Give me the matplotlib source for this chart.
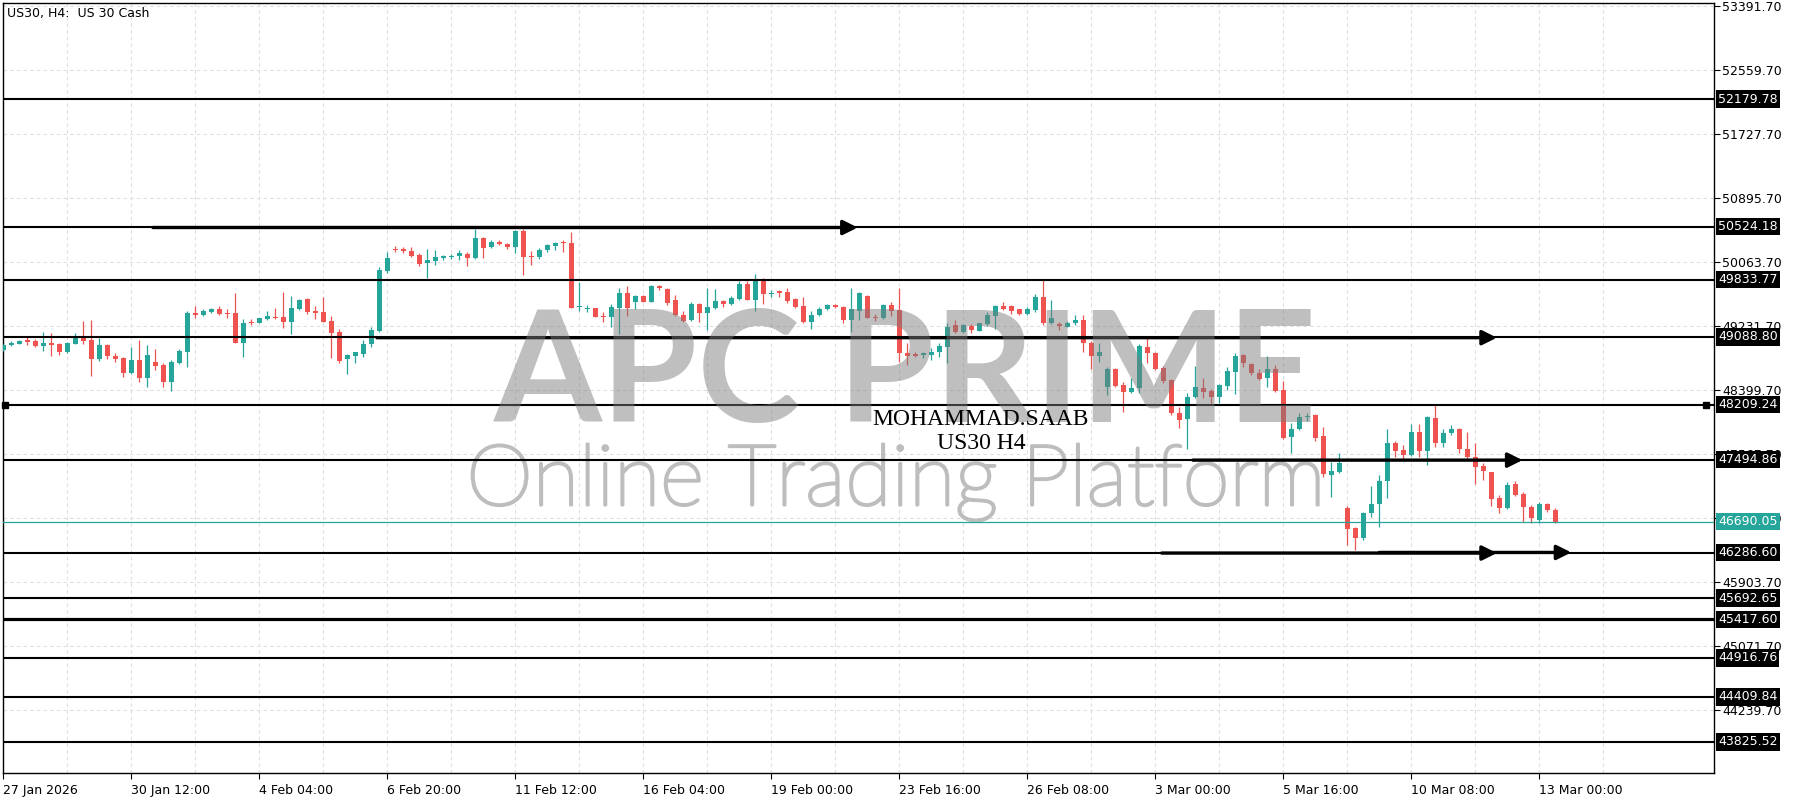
import numpy as np
import matplotlib
matplotlib.use("Agg")
import matplotlib.pyplot as plt
import matplotlib.transforms as mtransforms
import matplotlib.patheffects as pe
from matplotlib.ticker import FixedLocator

# ---------------- data (US30, H4 candles, bar index = position) ----------------
opens = [48920, 48989, 49002, 49054, 49041, 48972, 49015, 48998, 48890, 49002,
         49076, 49050, 48803, 48985, 48846, 48816, 48617, 48790, 48556, 48764,
         48725, 48508, 48755, 48898, 49405, 49375, 49414, 49453, 49401, 49401,
         49015, 49288, 49275, 49323, 49349, 49349, 49288, 49453, 49583, 49431,
         49414, 49293, 49150, 48803, 48846, 48872, 48998, 49167, 49947, 50233,
         50229, 50207, 50155, 50051, 50081, 50112, 50129, 50142, 50172, 50120,
         50376, 50255, 50324, 50298, 50263, 50467, 50142, 50133, 50216, 50276,
         50320, 50307, 49483, 49453, 49462, 49366, 49353, 49470, 49657, 49548,
         49622, 49548, 49748, 49713, 49566, 49375, 49306, 49518, 49405, 49470,
         49553, 49518, 49583, 49774, 49570, 49843, 49652, 49683, 49670, 49579,
         49492, 49288, 49371, 49449, 49505, 49483, 49310, 49431, 49626, 49353,
         49332, 49505, 49440, 48885, 48864, 48851, 48851, 48890, 48963, 49241,
         49158, 49232, 49171, 49258, 49362, 49492, 49492, 49449, 49388, 49440,
         49613, 49267, 49258, 49223, 49267, 49310, 49007, 48842, 48443, 48673,
         48465, 48378, 48422, 48963, 48877, 48682, 48530, 48105, 48019, 48305,
         48422, 48387, 48313, 48456, 48638, 48851, 48738, 48625, 48552, 48669,
         48400, 47785, 47889, 48053, 48075, 47802, 47295, 47338, 46870, 46602,
         46472, 46805, 46914, 47221, 47707, 47620, 47555, 47854, 47611, 48040,
         47715, 47837, 47893, 47633, 47533, 47412, 47330, 46992, 46862, 47178,
         47044, 46883, 46710, 46914, 46840]

closes = [48985, 49015, 49037, 49028, 48976, 49015, 48981, 48890, 49011, 49080,
          49037, 48803, 48985, 48838, 48803, 48621, 48790, 48556, 48851, 48712,
          48508, 48768, 48907, 49401, 49375, 49427, 49453, 49388, 49388, 49015,
          49275, 49275, 49332, 49366, 49336, 49284, 49462, 49574, 49418, 49405,
          49288, 49145, 48777, 48855, 48890, 48998, 49176, 49956, 50112, 50220,
          50207, 50146, 50042, 50086, 50129, 50146, 50142, 50177, 50120, 50372,
          50246, 50324, 50294, 50259, 50467, 50133, 50133, 50220, 50285, 50315,
          50307, 49470, 49496, 49470, 49353, 49353, 49475, 49657, 49470, 49622,
          49548, 49748, 49722, 49535, 49375, 49301, 49514, 49405, 49475, 49557,
          49518, 49600, 49778, 49570, 49843, 49648, 49665, 49657, 49561, 49483,
          49288, 49371, 49457, 49501, 49475, 49310, 49457, 49657, 49340, 49332,
          49505, 49431, 48877, 48842, 48846, 48877, 48898, 48972, 49223, 49158,
          49241, 49180, 49267, 49375, 49492, 49457, 49431, 49388, 49449, 49613,
          49267, 49332, 49232, 49275, 49310, 49007, 48842, 48898, 48673, 48452,
          48378, 48430, 48972, 48885, 48669, 48521, 48097, 48010, 48305, 48435,
          48378, 48313, 48465, 48647, 48846, 48747, 48617, 48543, 48669, 48391,
          47772, 47889, 48045, 48066, 47772, 47308, 47347, 47447, 46593, 46472,
          46805, 46918, 47217, 47707, 47611, 47555, 47854, 47611, 48045, 47715,
          47837, 47893, 47629, 47533, 47403, 47351, 46983, 46862, 47165, 47035,
          46883, 46732, 46914, 46840, 46690.05]

highs = [48994, 49037, 49046, 49089, 49063, 49150, 49141, 49015, 49024, 49141,
         49297, 49306, 49080, 48994, 48881, 48829, 48959, 49046, 48985, 48933,
         48751, 48786, 48929, 49423, 49496, 49449, 49466, 49492, 49453, 49665,
         49323, 49323, 49340, 49427, 49462, 49670, 49622, 49583, 49592, 49496,
         49609, 49358, 49193, 48864, 48898, 49046, 49215, 49999, 50198, 50276,
         50259, 50255, 50177, 50233, 50224, 50159, 50172, 50220, 50198, 50493,
         50389, 50346, 50346, 50311, 50480, 50493, 50207, 50242, 50302, 50328,
         50346, 50450, 49808, 49505, 49470, 49418, 49514, 49722, 49756, 49635,
         49635, 49765, 49765, 49722, 49635, 49427, 49540, 49527, 49730, 49713,
         49566, 49618, 49817, 49817, 49908, 49860, 49700, 49700, 49722, 49592,
         49613, 49431, 49475, 49514, 49518, 49492, 49722, 49678, 49635, 49384,
         49518, 49548, 49722, 49015, 48898, 48898, 48942, 49007, 49275, 49310,
         49258, 49258, 49275, 49418, 49505, 49544, 49505, 49457, 49483, 49648,
         49839, 49570, 49288, 49297, 49375, 49375, 49041, 49007, 48695, 48682,
         48508, 48552, 48998, 49085, 48898, 48712, 48538, 48183, 48357, 48712,
         48552, 48409, 48478, 48703, 48877, 48864, 48755, 48669, 48842, 48725,
         48521, 47967, 48097, 48097, 48088, 47923, 47468, 47577, 46892, 46623,
         46818, 47152, 47295, 47893, 47737, 47685, 47958, 47958, 48062, 48205,
         47889, 47945, 47902, 47858, 47707, 47447, 47338, 47035, 47208, 47221,
         47078, 46905, 46940, 46935, 46862]

lows = [48911, 48976, 48994, 48985, 48955, 48907, 48846, 48855, 48881, 48994,
        48994, 48586, 48781, 48803, 48768, 48573, 48604, 48508, 48443, 48656,
        48443, 48391, 48742, 48703, 49332, 49366, 49405, 49375, 49340, 49011,
        48829, 49245, 49271, 49310, 49323, 49210, 49124, 49436, 49384, 49323,
        49284, 48812, 48755, 48608, 48755, 48833, 48963, 49158, 49921, 50190,
        50177, 50129, 50016, 49860, 50025, 50090, 50103, 50090, 50016, 50107,
        50120, 50242, 50285, 50229, 50185, 49895, 50025, 50099, 50198, 50220,
        50190, 49462, 49431, 49410, 49345, 49288, 49223, 49128, 49366, 49453,
        49540, 49540, 49700, 49505, 49362, 49288, 49297, 49280, 49180, 49449,
        49479, 49505, 49570, 49566, 49431, 49514, 49613, 49613, 49527, 49470,
        49267, 49193, 49362, 49440, 49462, 49267, 49158, 49310, 49332, 49301,
        49319, 49362, 48768, 48725, 48825, 48812, 48790, 48833, 48755, 49145,
        49145, 49137, 49167, 49232, 49193, 49440, 49388, 49375, 49375, 49418,
        49245, 49258, 49180, 49215, 49245, 48898, 48669, 48768, 48335, 48443,
        48118, 48365, 48365, 48755, 48660, 48495, 48075, 47902, 47629, 48292,
        48292, 48235, 48235, 48400, 48348, 48703, 48595, 48530, 48435, 48374,
        47759, 47577, 47880, 48001, 47741, 47273, 47005, 47325, 46385, 46320,
        46450, 46745, 46615, 46992, 47533, 47477, 47542, 47533, 47425, 47663,
        47655, 47815, 47577, 47490, 47178, 47230, 46892, 46797, 46853, 47022,
        46688, 46667, 46675, 46810, 46675]

time_label_bars = [0, 16, 32, 48, 64, 80, 96, 112, 128, 144, 160, 176, 192]
time_labels = ["27 Jan 2026", "30 Jan 12:00", "4 Feb 04:00", "6 Feb 20:00",
               "11 Feb 12:00", "16 Feb 04:00", "19 Feb 00:00", "23 Feb 16:00",
               "26 Feb 08:00", "3 Mar 00:00", "5 Mar 16:00", "10 Mar 08:00",
               "13 Mar 00:00"]

price_ticks = [53391.70, 52559.70, 51727.70, 50895.70, 50063.70, 49231.70,
               48399.70, 47567.70, 46735.70, 45903.70, 45071.70, 44239.70]

levels = [52179.78, 50524.18, 49833.77, 49088.80, 48209.24, 47494.86,
          46286.60, 45692.65, 45417.60, 44916.76, 44409.84, 43825.52]
level_lw = [1.5, 1.5, 1.5, 1.5, 1.5, 1.5, 1.5, 1.5, 2.3, 1.5, 1.5, 1.5]

last_price = 46690.05

# arrows: (start bar, end bar, price)
arrow_start = [18.7, 46.7, 148.7, 144.8, 172.0]
arrow_end = [106.8, 186.7, 189.9, 186.7, 196.0]
arrow_price = [50512, 49080, 47488, 46280, 46288]

# ---------------- drawing ----------------
BULL = "#26a69a"
BEAR = "#ef5350"
W, H = 1800, 800

fig = plt.figure(figsize=(18, 8), dpi=100)
fig.patch.set_facecolor("white")
ax = fig.add_axes([3 / W, 27 / H, 1711 / W, 770 / H])

o = np.array(opens, float)
c = np.array(closes, float)
hi = np.maximum(np.array(highs, float), np.maximum(o, c))
lo = np.minimum(np.array(lows, float), np.minimum(o, c))
x = np.arange(len(o))
up = c >= o
col = np.where(up, BULL, BEAR)

ax.vlines(x, lo, hi, colors=col, lw=0.9, zorder=3)
body_h = np.maximum(np.abs(c - o), 14)
body_b = np.minimum(o, c)
ax.bar(x, body_h, bottom=body_b, width=0.62, color=col, lw=0, zorder=4)

ax.set_xlim(-0.0375, 213.84)
ax.set_ylim(43420.7, 53430.7)

# grid
ax.xaxis.set_major_locator(FixedLocator(time_label_bars))
ax.set_xticklabels(time_labels)
ax.xaxis.set_minor_locator(FixedLocator(np.arange(8, 214, 16)))
ax.yaxis.set_major_locator(FixedLocator(price_ticks))
ax.set_yticklabels([f"{p:.2f}" for p in price_ticks])
ax.yaxis.tick_right()
ax.grid(True, which="both", axis="x", color="#dedede", lw=0.8, ls=(0, (3, 3)), zorder=0)
ax.grid(True, which="major", axis="y", color="#dedede", lw=0.8, ls=(0, (3, 3)), zorder=0)
ax.tick_params(axis="y", direction="out", length=4, width=0.8, pad=2, labelsize=9,
               colors="black")
ax.tick_params(axis="x", which="major", direction="out", length=4, width=0.8, pad=4,
               labelsize=9)
ax.tick_params(axis="x", which="minor", length=0)
for lab in ax.get_xticklabels():
    lab.set_horizontalalignment("left")
for s in ax.spines.values():
    s.set_color("black")
    s.set_linewidth(1.0)

# horizontal levels
for lv, lw in zip(levels, level_lw):
    ax.axhline(lv, color="black", lw=lw, zorder=5)
ax.plot([0.25, 212.9], [levels[4], levels[4]], "s", color="black", ms=4.5, zorder=6,
        clip_on=False)

# current price line
ax.axhline(last_price, color=BULL, lw=0.9, zorder=5)

# arrows
for xs, xe, p in zip(arrow_start, arrow_end, arrow_price):
    ax.annotate("", xy=(xe, p), xytext=(xs, p),
                arrowprops=dict(arrowstyle="-|>", lw=2.4, color="black",
                                mutation_scale=22, shrinkA=0, shrinkB=0),
                zorder=7)

# price boxes on the right axis
trans = mtransforms.blended_transform_factory(ax.transAxes, ax.transData)
for lv in levels:
    ax.text(1.0023, lv, f"{lv:.2f}", transform=trans, ha="left", va="center",
            color="white", fontsize=9, zorder=10, clip_on=False,
            bbox=dict(boxstyle="square,pad=0.18", fc="black", ec="none"))
ax.text(1.0023, last_price, f"{last_price:.2f}", transform=trans, ha="left",
        va="center", color="white", fontsize=9, zorder=10, clip_on=False,
        bbox=dict(boxstyle="square,pad=0.18", fc=BULL, ec="none"))

# watermark
fig.text(906 / W, 1 - 422 / H, "APC PRIME", ha="center", va="baseline",
         fontsize=112, family="Lato", fontweight="bold", color="#7a7a7a",
         alpha=0.48, zorder=20)
ax.text(896 / W, 1 - 505 / H, "Online Trading Platform", ha="center",
        va="baseline", fontsize=61, family="Lato", fontweight="light",
        color="#bdbdbd", zorder=2, transform=fig.transFigure,
        path_effects=[pe.Stroke(linewidth=2.2, foreground="#bdbdbd"), pe.Normal()])

# author text
fig.text(981 / W, 1 - 425 / H, "MOHAMMAD.SAAB", ha="center", va="baseline",
         fontsize=17, family="Liberation Serif", color="black", zorder=21)
fig.text(981 / W, 1 - 449 / H, "US30 H4", ha="center", va="baseline",
         fontsize=17, family="Liberation Serif", color="black", zorder=21)

# chart title
fig.text(7 / W, 1 - 17 / H, "US30, H4:  US 30 Cash", ha="left", va="baseline",
         fontsize=9, color="black")

fig.savefig("out.png", dpi=100, facecolor="white")
